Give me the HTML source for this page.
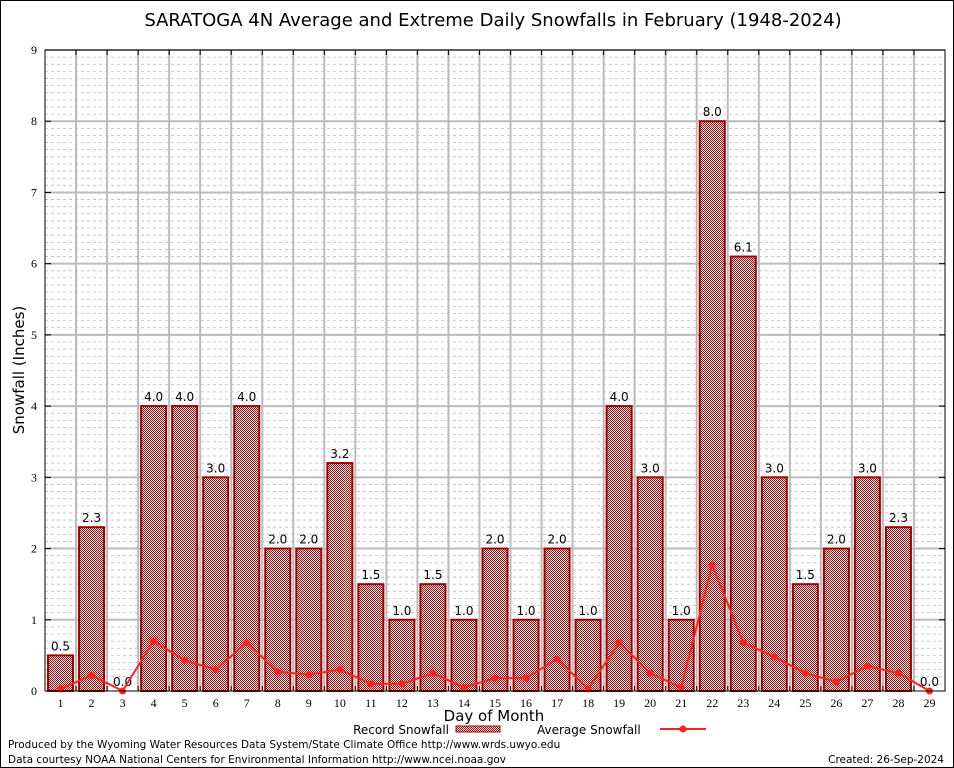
<!DOCTYPE html>
<html><head><meta charset="utf-8"><style>
body{margin:0;background:#fff;font-family:"DejaVu Sans","Liberation Sans",sans-serif}
</style></head><body>
<svg id="chart" width="954" height="768" xmlns="http://www.w3.org/2000/svg" style="display:block">
<defs>
<pattern id="chk" width="2" height="2" patternUnits="userSpaceOnUse">
<rect width="2" height="2" fill="#fff"/><rect width="1" height="1" fill="#b00000"/><rect x="1" y="1" width="1" height="1" fill="#b00000"/>
</pattern>
</defs>
<rect x="0.5" y="0.5" width="953" height="767" fill="#fff" stroke="#000"/>
<text x="493" y="26" font-size="18" text-anchor="middle">SARATOGA 4N Average and Extreme Daily Snowfalls in February (1948-2024)</text>
<g id="grid"></g>
<g id="bars"></g>
<g id="line"></g>
<g id="axes"></g>
<text transform="translate(24,370) rotate(-90)" font-size="15" text-anchor="middle">Snowfall (Inches)</text>
<text x="494" y="721" font-size="15" text-anchor="middle">Day of Month</text>
<g>
<text x="449" y="734" font-size="12" text-anchor="end">Record Snowfall</text>
<rect x="456" y="726" width="44" height="6" fill="url(#chk)" stroke="#a00000"/>
<text x="537" y="734" font-size="12">Average Snowfall</text>
<line x1="660" y1="729" x2="706" y2="729" stroke="#ff2020" stroke-width="2"/>
<circle cx="683" cy="729" r="3.5" fill="#ff2020"/>
</g>
<text x="8" y="748" font-size="10.5">Produced by the Wyoming Water Resources Data System/State Climate Office http://www.wrds.uwyo.edu</text>
<text x="8" y="763" font-size="10.5">Data courtesy NOAA National Centers for Environmental Information http://www.ncei.noaa.gov</text>
<text x="944" y="763" font-size="10.5" text-anchor="end">Created:  26-Sep-2024</text>
</svg>
<script>
const days=[1,2,3,4,5,6,7,8,9,10,11,12,13,14,15,16,17,18,19,20,21,22,23,24,25,26,27,28,29];
const records=[0.5,2.3,0.0,4.0,4.0,3.0,4.0,2.0,2.0,3.2,1.5,1.0,1.5,1.0,2.0,1.0,2.0,1.0,4.0,3.0,1.0,8.0,6.1,3.0,1.5,2.0,3.0,2.3,0.0];
const averages=[0.03,0.22,0.0,0.7,0.43,0.3,0.68,0.27,0.23,0.3,0.1,0.1,0.25,0.05,0.18,0.18,0.45,0.03,0.68,0.25,0.05,1.77,0.68,0.48,0.25,0.13,0.35,0.25,0.0];
const yTicks=[0,1,2,3,4,5,6,7,8,9];
const NS="http://www.w3.org/2000/svg";
const L=45,R=945,T=50,B=691,yMax=9;
const slot=(R-L)/days.length;
const x=d=>L+(d-0.5)*slot;
const y=v=>B-(v/yMax)*(B-T);
function mk(tag,attrs,parent,txt){const e=document.createElementNS(NS,tag);for(const k in attrs)e.setAttribute(k,attrs[k]);if(txt!==undefined)e.textContent=txt;document.getElementById(parent).appendChild(e);return e;}
for(let i=1;i<yMax*10;i++){if(i%10===0)continue;const g=mk('line',{x1:L,x2:R,y1:y(i/10),y2:y(i/10),stroke:'#bbb','stroke-dasharray':'3,3','stroke-width':0.8},'grid');

}
yTicks.forEach(t=>{if(t===0)return;const g=mk('line',{x1:L,x2:R,y1:y(t),y2:y(t),stroke:'#bbb','stroke-width':2},'grid');

});
for(let i=1;i<days.length;i++){const xx=L+i*slot;const g=mk('line',{x1:xx,x2:xx,y1:T,y2:B,stroke:'#bbb','stroke-width':2},'grid');

}
days.forEach((d,i)=>{const v=records[i];const bw=25;
if(v>0){const r=mk('rect',{x:x(d)-bw/2,y:y(v),width:bw,height:B-y(v),fill:'url(#chk)',stroke:'#a00000','stroke-width':2},'bars');

}
const t=mk('text',{x:x(d),y:y(v)-5,'font-size':12,'text-anchor':'middle'},'bars',v.toFixed(1));

});
const pts=days.map((d,i)=>x(d)+','+y(averages[i])).join(' ');
const pl=mk('polyline',{points:pts,fill:'none',stroke:'#ff2020','stroke-width':2},'line');


days.forEach((d,i)=>{const c=mk('circle',{cx:x(d),cy:y(averages[i]),r:3.5,fill:'#ff2020'},'line');

});
const fr=mk('rect',{x:L,y:T,width:R-L,height:B-T,fill:'none',stroke:'#000','stroke-width':1},'axes');


yTicks.forEach(t=>{const tl=mk('text',{x:L-8,y:y(t)+4,'font-size':12,'text-anchor':'end','font-family':'Liberation Serif, serif'},'axes',String(t));


mk('line',{x1:L,x2:L+6,y1:y(t),y2:y(t),stroke:'#000'},'axes');
mk('line',{x1:R,x2:R-6,y1:y(t),y2:y(t),stroke:'#000'},'axes');});
days.forEach(d=>{const tl=mk('text',{x:x(d),y:B+16,'font-size':12,'text-anchor':'middle','font-family':'Liberation Serif, serif'},'axes',String(d));

});
for(let i=1;i<days.length;i++){const xx=L+i*slot;mk('line',{x1:xx,x2:xx,y1:T,y2:T+5,stroke:'#000'},'axes');mk('line',{x1:xx,x2:xx,y1:B,y2:B-5,stroke:'#000'},'axes');}
</script>
</body></html>
